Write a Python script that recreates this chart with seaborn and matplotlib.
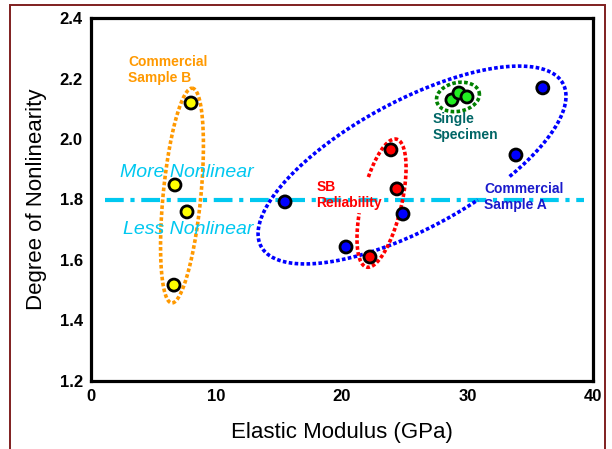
import numpy as np
import pandas as pd
import matplotlib.pyplot as plt
import matplotlib.patches as mpatches
from matplotlib.ticker import MultipleLocator
import seaborn as sns

# values
sample_b_modulus = [7.97, 6.69, 7.65, 6.61]
sample_b_nonlin = [2.119, 1.848, 1.759, 1.517]

sample_a_modulus = [15.46, 20.32, 24.86, 33.86, 36.0]
sample_a_nonlin = [1.792, 1.643, 1.752, 1.947, 2.169]

sb_modulus = [23.9, 24.38, 22.23]
sb_nonlin = [1.964, 1.835, 1.610]

single_modulus = [28.76, 29.32, 29.96]
single_nonlin = [2.129, 2.152, 2.139]

threshold = 1.8

groups = ["Commercial Sample B", "Commercial Sample A", "SB Reliability", "Single Specimen"]
colors = {"Commercial Sample B": "#ffff00", "Commercial Sample A": "#0000ff",
          "SB Reliability": "#ff0000", "Single Specimen": "#22ee22"}

df = pd.concat([
    pd.DataFrame({"modulus": sample_b_modulus, "nonlin": sample_b_nonlin, "group": groups[0]}),
    pd.DataFrame({"modulus": sample_a_modulus, "nonlin": sample_a_nonlin, "group": groups[1]}),
    pd.DataFrame({"modulus": sb_modulus, "nonlin": sb_nonlin, "group": groups[2]}),
    pd.DataFrame({"modulus": single_modulus, "nonlin": single_nonlin, "group": groups[3]}),
], ignore_index=True)

sns.set_style("white")
plt.rcParams['font.family'] = ['Liberation Sans', 'DejaVu Sans']
plt.rcParams['text.color'] = 'black'
plt.rcParams['axes.labelcolor'] = 'black'
plt.rcParams['xtick.color'] = 'black'
plt.rcParams['ytick.color'] = 'black'


def ring(ax, center, v1, v2, color, gap=None):
    # ellipse from two conjugate half-axes (data units), optional gap in degrees
    if gap:
        t = np.radians(np.linspace(gap[1], gap[0] + 360, 400))
    else:
        t = np.linspace(0, 2 * np.pi, 400)
    x = center[0] + v1[0] * np.cos(t) + v2[0] * np.sin(t)
    y = center[1] + v1[1] * np.cos(t) + v2[1] * np.sin(t)
    ax.plot(x, y, color=color, lw=2.6, linestyle=(0, (1, 0.65)), zorder=2)


fig = plt.figure(figsize=(6.12, 4.49), dpi=100)
ax = fig.add_axes([91 / 612, 1 - 381 / 449, 502 / 612, 363 / 449])

ax.plot([1.1, 39.3], [threshold, threshold], color="#00c8f0", lw=3.0,
        linestyle=(0, (4.5, 1.6, 1.0, 1.6)), zorder=1)

ring(ax, (7.25, 1.813), (0.80, 0.355), (1.51, 0.0), "#ff9900")
ring(ax, (25.58, 1.914), (12.03, 0.269), (-2.41, 0.186), "#0000ff", gap=(-76, -62))
ring(ax, (23.15, 1.788), (1.08, 0.212), (1.63, 0.0), "#ff0000", gap=(-99, -66))
ring(ax, (29.24, 2.139), (1.71, 0.008), (0.0, 0.048), "#008000")

sns.scatterplot(data=df, x="modulus", y="nonlin", hue="group", palette=colors,
                s=75, edgecolor="black", linewidth=2.0, legend=False, ax=ax, zorder=5)

ax.text(2.94, 2.278, "Commercial\nSample B", color="#ff9900", fontsize=10,
        fontweight="bold", va="top", ha="left", linespacing=1.15)
ax.text(2.3, 1.873, "More Nonlinear", color="#00c8f0", fontsize=14, style="italic")
ax.text(2.55, 1.687, "Less Nonlinear", color="#00c8f0", fontsize=14, style="italic")
ax.text(17.97, 1.864, "SB\nReliability", color="#ff0000", fontsize=10,
        fontweight="bold", va="top", ha="left", linespacing=1.15)
ax.text(27.2, 2.089, "Single\nSpecimen", color="#006666", fontsize=10,
        fontweight="bold", va="top", ha="left", linespacing=1.15)
ax.text(31.33, 1.857, "Commercial\nSample A", color="#1a1acc", fontsize=10,
        fontweight="bold", va="top", ha="left", linespacing=1.15)

ax.set_xlim(0, 40)
ax.set_ylim(1.2, 2.4)
ax.xaxis.set_major_locator(MultipleLocator(10))
ax.xaxis.set_minor_locator(MultipleLocator(2))
ax.yaxis.set_major_locator(MultipleLocator(0.2))
ax.yaxis.set_minor_locator(MultipleLocator(0.05))
ax.tick_params(which="major", direction="in", length=5, width=1.2, labelsize=12, pad=6)
ax.tick_params(which="minor", direction="in", length=3, width=1.0)
ax.tick_params(top=False, right=False, which="both")
for lbl in ax.get_xticklabels() + ax.get_yticklabels():
    lbl.set_fontweight("bold")
for sp in ax.spines.values():
    sp.set_linewidth(2.3)
    sp.set_color("black")

ax.set_xlabel("Elastic Modulus (GPa)", fontsize=16, labelpad=13)
ax.set_ylabel("Degree of Nonlinearity", fontsize=16, labelpad=9)

# dark red frame around the slide
fig.patches.append(mpatches.Rectangle((10 / 612, -0.1), 595 / 612, 1.1 - 5 / 449,
                                      transform=fig.transFigure, fill=False,
                                      edgecolor="#7f1f1f", lw=1.4))

fig.savefig("out.png", dpi=100)
